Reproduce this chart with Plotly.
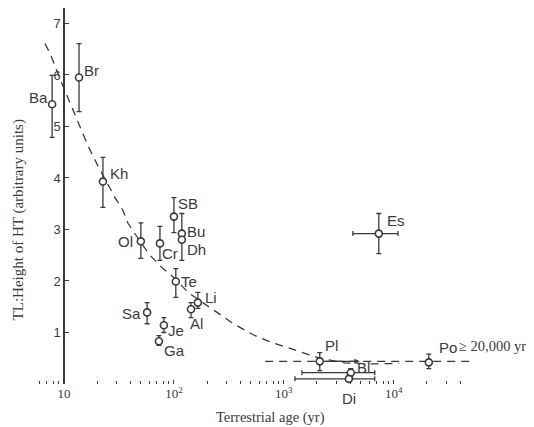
import plotly.graph_objects as go
import math

# ---- data ----
names   = ["Ba", "Br", "Kh", "Ol", "Cr", "SB", "Bu", "Dh", "Te", "Li", "Al", "Sa", "Je", "Ga", "Es", "Pl", "Bl", "Di", "Po"]
ages    = [7.8, 13.7, 22.6, 50, 74.6, 100, 118, 118, 104, 165, 143, 57, 81, 73, 7300, 2120, 4060, 3900, 20800]
heights = [5.43, 5.95, 3.93, 2.77, 2.73, 3.25, 2.92, 2.80, 1.99, 1.58, 1.45, 1.39, 1.14, 0.83, 2.92, 0.44, 0.22, 0.10, 0.42]
h_hi    = [5.99, 6.61, 4.40, 3.13, 3.06, 3.62, 3.31, 2.92, 2.24, 1.78, 1.58, 1.58, 1.29, 0.94, 3.31, 0.61, 0.30, 0.10, 0.58]
h_lo    = [4.79, 5.29, 3.43, 2.44, 2.40, 2.94, 2.80, 2.40, 1.68, 1.47, 1.29, 1.17, 1.00, 0.75, 2.53, 0.26, 0.14, 0.10, 0.30]
age_lo  = [7.8, 13.7, 22.6, 50, 74.6, 100, 118, 118, 104, 165, 143, 57, 81, 73, 4240, 2120, 1460, 1260, 20800]
age_hi  = [7.8, 13.7, 22.6, 50, 74.6, 100, 118, 118, 104, 165, 143, 57, 81, 73, 10900, 2120, 6710, 6700, 20800]

pl_arrow_to = 4900          # Pl: age range extends to the right (arrow)

fit_age = [6.71, 7.46, 9.59, 11.8, 14.0, 16.5, 20.4, 24.6, 29.1, 34.4, 38.2, 47.1, 60.5, 77.8, 102, 134,
           172, 236, 337, 461, 569, 794, 1135, 1837, 2123, 3589, 6310, 11220]
fit_h   = [6.61, 6.42, 5.83, 5.37, 4.96, 4.63, 4.23, 3.91, 3.62, 3.37, 3.12, 2.83, 2.50, 2.26, 2.05, 1.78,
           1.62, 1.43, 1.19, 1.02, 0.92, 0.80, 0.69, 0.55, 0.50, 0.41, 0.39, 0.40]

flat_age = [676, 49000]
flat_h   = [0.44, 0.44]

x_tickvals = [10, 100, 1000, 10000]
x_ticktext = ["10", "10<sup>2</sup>", "10<sup>3</sup>", "10<sup>4</sup>"]
y_tickvals = [1, 2, 3, 4, 5, 6, 7]
y_ticktext = ["1", "2", "3", "4", "5", "6", "7"]

# ---- style ----
INK = "#3a3a3a"
SANS = "Liberation Sans, Arial, sans-serif"
SERIF = "Liberation Serif, Times New Roman, serif"

# label placement: (xanchor, xshift, yshift) in pixels
label_pos = {
    "Ba": ("right", -2, 7), "Br": ("left", 3, 7), "Kh": ("left", 5, 8), "Ol": ("right", -6, 0),
    "Cr": ("left", 0, -10), "SB": ("left", 2, 13), "Bu": ("left", 3, 2), "Dh": ("left", 3, -10),
    "Te": ("left", 3, 0), "Li": ("left", 5, 5), "Al": ("left", -3, -14), "Sa": ("right", -4, -1),
    "Je": ("left", 2, -5), "Ga": ("left", 3, -9), "Es": ("left", 6, 13), "Pl": ("left", 3, 16),
    "Bl": ("left", 4, 5), "Di": ("center", 0, -20), "Po": ("left", 8, 15),
}

fig = go.Figure()

# fitted dashed curve
fig.add_trace(go.Scatter(x=fit_age, y=fit_h, mode="lines",
                         line=dict(color=INK, width=1.3, dash="8px,6px"), hoverinfo="skip"))
fig.add_trace(go.Scatter(x=flat_age, y=flat_h, mode="lines",
                         line=dict(color=INK, width=1.3, dash="8px,6px"), hoverinfo="skip"))

err_plus = [hi - h for hi, h in zip(h_hi, heights)]
err_minus = [h - lo for lo, h in zip(h_lo, heights)]
xerr_plus = [hi - a for hi, a in zip(age_hi, ages)]
xerr_minus = [a - lo for lo, a in zip(age_lo, ages)]

fig.add_trace(go.Scatter(
    x=ages, y=heights, mode="markers",
    marker=dict(symbol="circle", size=7, color="white", line=dict(color=INK, width=1.6)),
    error_y=dict(type="data", array=err_plus, arrayminus=err_minus, color=INK, thickness=1.3, width=2.5),
    error_x=dict(type="data", array=xerr_plus, arrayminus=xerr_minus, color=INK, thickness=1.3, width=2.5),
    hoverinfo="skip", cliponaxis=False))

annotations = []
for n, a, h in zip(names, ages, heights):
    xa, dx, dy = label_pos[n]
    annotations.append(dict(x=math.log10(a), y=h, xref="x", yref="y", text=n, showarrow=False,
                            xanchor=xa, yanchor="middle", xshift=dx, yshift=dy,
                            font=dict(family=SANS, size=15, color=INK)))

# "≥ 20,000 yr" after Po
po_i = names.index("Po")
annotations.append(dict(x=math.log10(ages[po_i]), y=heights[po_i], xref="x", yref="y",
                        text="≥ 20,000 yr", showarrow=False, xanchor="left", yanchor="middle",
                        xshift=28, yshift=16, font=dict(family=SERIF, size=14.5, color=INK)))

# Pl arrow
pl_i = names.index("Pl")
annotations.append(dict(x=math.log10(pl_arrow_to), y=heights[pl_i], xref="x", yref="y",
                        ax=math.log10(ages[pl_i]) + 0.03, ay=heights[pl_i], axref="x", ayref="y",
                        showarrow=True, arrowhead=2, arrowsize=0.9, arrowwidth=1.2, arrowcolor=INK, text=""))

# axis titles
annotations.append(dict(x=-0.031, y=0.436, xref="paper", yref="paper", text="TL:Height of HT (arbitrary units)",
                        textangle=-90, showarrow=False, xanchor="center", yanchor="middle",
                        font=dict(family=SERIF, size=15, color=INK)))
annotations.append(dict(x=0.54, y=-0.090, xref="paper", yref="paper", text="Terrestrial age (yr)",
                        showarrow=False, xanchor="center", yanchor="middle",
                        font=dict(family=SERIF, size=14.5, color=INK)))

minor_vals = [m * 10 ** d for d in range(0, 5) for m in range(2, 10) if 5 <= m * 10 ** d <= 40000]

# page body has an 8px margin, so the figure is 8px smaller and offset accordingly
fig.update_layout(
    width=526, height=419,
    margin=dict(l=24, r=61, t=0, b=43),
    paper_bgcolor="white", plot_bgcolor="white",
    showlegend=False,
    annotations=annotations,
    shapes=[dict(type="line", xref="x", yref="y", x0=0.709, x1=4.58, y0=0, y1=0,
                 line=dict(color=INK, width=1.5))],
    xaxis=dict(type="log", range=[0.709, 4.72], showgrid=False, zeroline=False, showline=False,
               tickvals=x_tickvals, ticktext=x_ticktext, ticks="inside", ticklen=4, tickwidth=1,
               tickcolor=INK, tickfont=dict(family=SERIF, size=13, color=INK),
               minor=dict(tickvals=minor_vals, ticks="inside", ticklen=3, tickwidth=1, tickcolor=INK,
                          showgrid=False)),
    yaxis=dict(range=[0, 7.3], anchor="free", position=(64 - 32) / 441, side="left",
               showgrid=False, zeroline=False, showline=True, linecolor=INK, linewidth=1.5,
               tickvals=y_tickvals, ticktext=y_ticktext, ticks="inside", ticklen=4, tickwidth=1,
               tickcolor=INK, tickfont=dict(family=SANS, size=13, color=INK)),
)

fig.write_html("out.html")
